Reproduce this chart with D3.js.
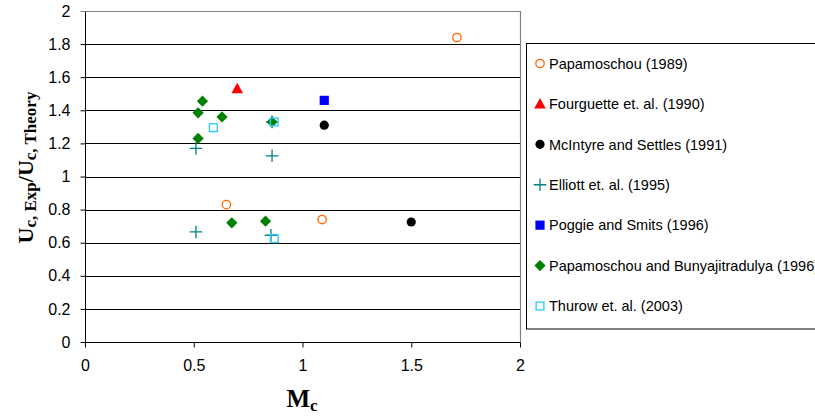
<!DOCTYPE html>
<html>
<head>
<meta charset="utf-8">
<script src="https://cdn.jsdelivr.net/npm/d3@7"></script>
<style>
  html, body { margin: 0; padding: 0; background: #fff; overflow: hidden; }
  svg { display: block; }
  .tick text { font-family: "Liberation Sans", Arial, sans-serif; }
</style>
</head>
<body>
<svg id="chart" width="815" height="416"></svg>
<script>
// Convective Mach number vs. measured/theoretical convective velocity ratio
const xTicks = [0, 0.5, 1, 1.5, 2];
const yTicks = [0, 0.2, 0.4, 0.6, 0.8, 1, 1.2, 1.4, 1.6, 1.8, 2];

const seriesNames = [
  "Papamoschou (1989)",
  "Fourguette et. al. (1990)",
  "McIntyre and Settles (1991)",
  "Elliott et. al. (1995)",
  "Poggie and Smits (1996)",
  "Papamoschou and Bunyajitradulya (1996)",
  "Thurow et. al. (2003)"
];

// [Mc, Uc,Exp / Uc,Theory]
const papamoschou1989 = [[1.71, 1.84], [0.65, 0.83], [1.09, 0.74]];
const fourguette1990 = [[0.70, 1.53]];
const mcintyreSettles1991 = [[1.10, 1.31], [1.50, 0.725]];
const elliott1995 = [[0.51, 1.17], [0.86, 1.125], [0.51, 0.665], [0.855, 0.645], [0.86, 1.33]];
const poggieSmits1996 = [[1.10, 1.46]];
const papamoschouBunyajitradulya1996 = [[0.54, 1.455], [0.52, 1.385], [0.63, 1.36], [0.52, 1.23], [0.86, 1.33], [0.675, 0.72], [0.83, 0.73]];
const thurow2003 = [[0.59, 1.295], [0.87, 1.33], [0.87, 0.625]];

const seriesData = [papamoschou1989, fourguette1990, mcintyreSettles1991, elliott1995,
  poggieSmits1996, papamoschouBunyajitradulya1996, thurow2003];

const markerKinds = ["ringCircle", "triangle", "dot", "cross", "square", "diamond", "ringSquare"];
const markerColors = ["#FF6600", "#FF0000", "#000000", "#008080", "#0000FF", "#008000", "#33CCFF"];

const svg = d3.select("#chart");
const plotLeft = 85, plotRight = 520, plotTop = 11, plotBottom = 342;

const x = d3.scaleLinear().domain([0, 2]).range([plotLeft, plotRight]);
const y = d3.scaleLinear().domain([0, 2]).range([plotBottom, plotTop]);

// gridlines
svg.append("g")
  .attr("shape-rendering", "crispEdges")
  .selectAll("line")
  .data(yTicks.filter(t => t > 0 && t < 2))
  .join("line")
  .attr("x1", plotLeft).attr("x2", plotRight)
  .attr("y1", d => Math.round(y(d)) + 0.5).attr("y2", d => Math.round(y(d)) + 0.5)
  .attr("stroke", "#000").attr("stroke-width", 1);

// plot frame: grey top and right edges
svg.append("path")
  .attr("d", `M${plotLeft},${plotTop + 0.5}H${plotRight + 0.5}V${plotBottom}`)
  .attr("fill", "none").attr("stroke", "#808080").attr("stroke-width", 1.2);

// y axis
const yAxis = svg.append("g")
  .attr("transform", `translate(${plotLeft + 0.5},0)`)
  .call(d3.axisLeft(y).tickValues(yTicks).tickSize(5).tickPadding(10)
    .tickFormat(d => String(+d.toFixed(1))));
yAxis.select(".domain").attr("stroke", "#000").attr("d", `M0,${plotTop + 0.5}V${plotBottom + 0.5}`);
yAxis.selectAll(".tick line").attr("stroke", "#000");
yAxis.selectAll(".tick text").attr("font-size", 16).attr("fill", "#000");
yAxis.selectAll(".tick").filter(d => d === 2).select("line").attr("stroke", "#808080");

// x axis
const xAxis = svg.append("g")
  .attr("transform", `translate(0,${plotBottom + 0.5})`)
  .call(d3.axisBottom(x).tickValues(xTicks).tickSize(5).tickPadding(12)
    .tickFormat(d => String(d)));
xAxis.select(".domain").attr("stroke", "#000").attr("d", `M${plotLeft},0H${plotRight + 0.5}`);
xAxis.selectAll(".tick line").attr("stroke", "#000");
xAxis.selectAll(".tick text").attr("font-size", 16).attr("fill", "#000");

// marker drawing
function drawMarker(g, kind, color) {
  switch (kind) {
    case "ringCircle":
      g.append("circle").attr("r", 4.2).attr("fill", "#fff").attr("stroke", color).attr("stroke-width", 1.3);
      break;
    case "dot":
      g.append("circle").attr("r", 4.6).attr("fill", color);
      break;
    case "triangle":
      g.append("path").attr("d", "M0,-6L5.8,4.5H-5.8Z").attr("fill", color);
      break;
    case "square":
      g.append("rect").attr("x", -4.6).attr("y", -4.6).attr("width", 9.2).attr("height", 9.2).attr("fill", color);
      break;
    case "ringSquare":
      g.append("rect").attr("x", -3.9).attr("y", -3.9).attr("width", 7.8).attr("height", 7.8)
        .attr("fill", "none").attr("stroke", color).attr("stroke-width", 1.4);
      break;
    case "diamond":
      g.append("path").attr("d", "M0,-5.6L5.6,0L0,5.6L-5.6,0Z").attr("fill", color);
      break;
    case "cross":
      g.append("path").attr("d", "M-6.3,0H6.3M0,-6.3V6.3").attr("stroke", color).attr("stroke-width", 1.3).attr("fill", "none");
      break;
  }
}

// data points
seriesData.forEach((pts, i) => {
  svg.append("g").selectAll("g")
    .data(pts)
    .join("g")
    .attr("transform", d => `translate(${x(d[0])},${y(d[1])})`)
    .each(function () { drawMarker(d3.select(this), markerKinds[i], markerColors[i]); });
});

// legend
const legend = svg.append("g");
legend.append("rect")
  .attr("x", 526.5).attr("y", 43.5).attr("width", 300).attr("height", 285.5)
  .attr("fill", "#fff").attr("stroke", "#000").attr("stroke-width", 1);
const legendRow = d3.scaleLinear().domain([0, 6]).range([63.5, 306]);
seriesNames.forEach((name, i) => {
  const row = legend.append("g").attr("transform", `translate(540,${legendRow(i)})`);
  drawMarker(row, markerKinds[i], markerColors[i]);
  row.append("text")
    .attr("x", 9).attr("dy", "0.36em")
    .attr("font-family", "Liberation Sans, Arial, sans-serif")
    .attr("font-size", 14.5)
    .attr("fill", "#000")
    .text(name);
});

// axis titles
const yTitle = svg.append("text")
  .attr("transform", "translate(33,167.5) rotate(-90)")
  .attr("text-anchor", "middle")
  .attr("font-family", "Liberation Serif, Times New Roman, serif")
  .attr("font-weight", "bold")
  .attr("fill", "#000");
yTitle.append("tspan").attr("font-size", 22).text("U");
yTitle.append("tspan").attr("font-size", 17).attr("dy", 3).text("c, Exp");
yTitle.append("tspan").attr("font-size", 22).attr("dy", -3).text("/U");
yTitle.append("tspan").attr("font-size", 17).attr("dy", 3).text("c, Theory");

const xTitle = svg.append("text")
  .attr("x", 302).attr("y", 407)
  .attr("text-anchor", "middle")
  .attr("font-family", "Liberation Serif, Times New Roman, serif")
  .attr("font-weight", "bold")
  .attr("fill", "#000");
xTitle.append("tspan").attr("font-size", 25).text("M");
xTitle.append("tspan").attr("font-size", 17).attr("dy", 4).text("c");
</script>
</body>
</html>
